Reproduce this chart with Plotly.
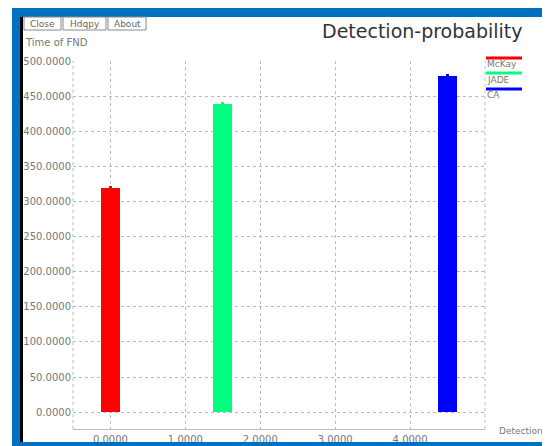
import plotly.graph_objects as go

# ---- data ----
series_names = ["McKay", "JADE", "CA"]
detection_x = [0.0, 1.5, 4.5]
time_of_fnd = [319, 439, 479]
series_colors = ["#ff0000", "#00ff80", "#0000ff"]
x_tick_vals = [0, 1, 2, 3, 4]
y_tick_vals = list(range(0, 501, 50))

W, H = 550, 446
OFF = 8  # page body margin offset of the figure in the screenshot
# plot-area edges in screenshot pixels
L, R, T, B = 73, 485, 61, 429


def px(x):
    return (x - L) / (R - L)


def py(y):
    return (B - y) / (B - T)


fig = go.Figure()
for name, xv, yv, col in zip(series_names, detection_x, time_of_fnd, series_colors):
    fig.add_trace(go.Bar(
        x=[xv], y=[yv], name=name, width=0.25,
        marker=dict(color=col, line=dict(width=0)),
        error_y=dict(type="data", symmetric=False, array=[3], arrayminus=[0],
                     color=col, thickness=3, width=0),
        showlegend=False,
    ))

FONT = "DejaVu Sans"
GRAY = "#777777"
GRID = "#bbbbbb"

shapes = []
# outer window frame (blue) and black inner edge
BLUE = "#0070c0"
shapes += [
    dict(type="rect", xref="paper", yref="paper", x0=px(12), x1=px(560), y0=py(17), y1=py(8),
         fillcolor=BLUE, line=dict(width=0), layer="above"),
    dict(type="rect", xref="paper", yref="paper", x0=px(12), x1=px(20), y0=py(460), y1=py(8),
         fillcolor=BLUE, line=dict(width=0), layer="above"),
    dict(type="rect", xref="paper", yref="paper", x0=px(12), x1=px(560), y0=py(460), y1=py(442),
         fillcolor=BLUE, line=dict(width=0), layer="above"),
    dict(type="rect", xref="paper", yref="paper", x0=px(20), x1=px(23), y0=py(442), y1=py(17),
         fillcolor="#000000", line=dict(width=0), layer="above"),
]
# plot frame: dotted left/right edges
shapes += [
    dict(type="line", xref="paper", yref="paper", x0=0, x1=0, y0=0, y1=1,
         line=dict(color=GRID, width=1, dash="dot"), layer="below"),
    dict(type="line", xref="paper", yref="paper", x0=1, x1=1, y0=0, y1=1,
         line=dict(color=GRID, width=1, dash="dot"), layer="below"),
]
# buttons
buttons = [("Close", 24, 61), ("Hdqpy", 63, 106), ("About", 108, 146)]
annotations = []
for label, x0, x1 in buttons:
    shapes.append(dict(type="rect", xref="paper", yref="paper", x0=px(x0), x1=px(x1),
                       y0=py(30), y1=py(17), line=dict(color="#888888", width=1),
                       fillcolor="white", layer="above"))
    annotations.append(dict(text=label, xref="paper", yref="paper", x=px((x0 + x1) / 2), y=py(23.5),
                            showarrow=False, xanchor="center", yanchor="middle",
                            font=dict(family=FONT, size=9, color="#666666")))

# legend lines + labels
leg_y = [58, 73, 89]
leg_text_y = [64, 80, 95]
for name, col, ly, ty in zip(series_names, series_colors, leg_y, leg_text_y):
    shapes.append(dict(type="line", xref="paper", yref="paper", x0=px(486), x1=px(522),
                       y0=py(ly), y1=py(ly), line=dict(color=col, width=3), layer="above"))
    annotations.append(dict(text=name, xref="paper", yref="paper", x=px(485), y=py(ty),
                            showarrow=False, xanchor="left", yanchor="middle",
                            font=dict(family=FONT, size=9, color=GRAY)))

annotations += [
    dict(text="Detection-probability", xref="paper", yref="paper", x=px(525), y=py(31),
         showarrow=False, xanchor="right", yanchor="middle",
         font=dict(family="DejaVu Sans", size=19, color="#333333")),
    dict(text="Time of FND", xref="paper", yref="paper", x=px(23), y=py(43),
         showarrow=False, xanchor="left", yanchor="middle",
         font=dict(family=FONT, size=10, color=GRAY)),
    dict(text="Detection", xref="paper", yref="paper", x=px(497), y=py(431),
         showarrow=False, xanchor="left", yanchor="middle",
         font=dict(family=FONT, size=9, color=GRAY)),
]

fig.update_layout(
    width=W, height=H,
    margin=dict(l=L - OFF, r=W - (R - OFF), t=T - OFF, b=H - (B - OFF), pad=0, autoexpand=False),
    paper_bgcolor="white", plot_bgcolor="white",
    shapes=shapes, annotations=annotations,
    bargap=0,
    font=dict(family=FONT, size=10, color=GRAY),
)
fig.update_xaxes(range=[-0.5, 5.0], tickvals=x_tick_vals, tickformat=".4f",
                 showgrid=True, gridcolor=GRID, griddash="dot", gridwidth=1,
                 showline=True, linecolor=GRID, linewidth=1, ticks="",
                 zeroline=False, tickfont=dict(family=FONT, size=10, color=GRAY),
                 ticklabelstandoff=1, automargin=False)
fig.update_yaxes(range=[-24, 500], tickvals=y_tick_vals, tickformat=".4f",
                 showgrid=True, gridcolor=GRID, griddash="dot", gridwidth=1,
                 showline=False, ticks="", zeroline=False,
                 tickfont=dict(family=FONT, size=10, color=GRAY),
                 ticklabelstandoff=1, automargin=False)

fig.write_html("out.html")
